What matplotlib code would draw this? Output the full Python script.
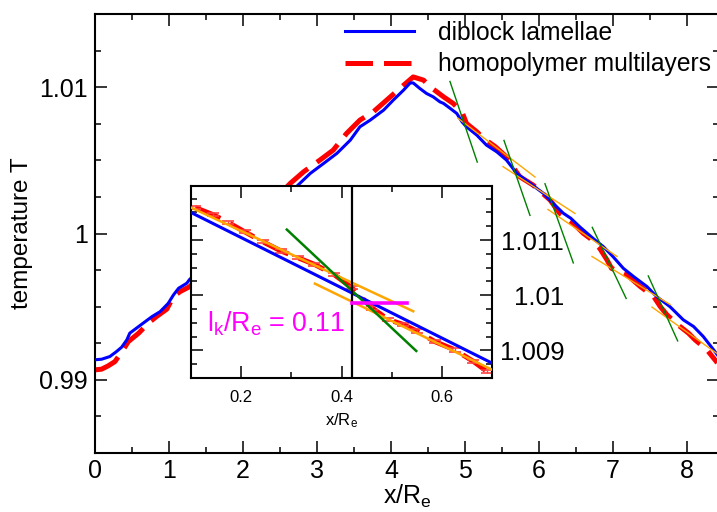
import matplotlib
matplotlib.use("Agg")
import matplotlib.pyplot as plt
from matplotlib.ticker import MultipleLocator, FuncFormatter

plt.rcParams['font.family'] = ['Liberation Sans', 'DejaVu Sans']
plt.rcParams['mathtext.fontset'] = 'custom'
plt.rcParams['mathtext.rm'] = 'Liberation Sans'
plt.rcParams['mathtext.it'] = 'Liberation Sans:italic'

# ---- temperature profiles along x/R_e ----
blue_x = [0.00, 0.09, 0.20, 0.29, 0.36, 0.43, 0.47, 0.56, 0.65, 0.77, 0.88, 0.99,
          1.06, 1.13, 1.24, 1.28, 2.73, 2.91, 3.09, 3.27, 3.45, 3.58, 3.72, 3.90,
          4.03, 4.17, 4.26, 4.30, 4.39, 4.48, 4.57, 4.66, 4.71, 4.80, 4.89, 4.96,
          5.02, 5.16, 5.29, 5.43, 5.56, 5.70, 5.88, 6.06, 6.19, 6.33, 6.43, 6.55,
          6.73, 6.87, 7.00, 7.14, 7.28, 7.46, 7.59, 7.77, 7.95, 8.09, 8.22, 8.36, 8.41]
blue_y = [0.99137, 0.99141, 0.99159, 0.99193, 0.99223, 0.99273, 0.99319, 0.99353,
          0.99387, 0.99432, 0.99466, 0.99523, 0.99580, 0.99626, 0.99660, 0.99687,
          1.00324, 1.00411, 1.00479, 1.00548, 1.00638, 1.00729, 1.00775, 1.00843,
          1.00911, 1.00980, 1.01029, 1.01029, 1.00991, 1.00957, 1.00934, 1.00900,
          1.00889, 1.00855, 1.00820, 1.00763, 1.00729, 1.00672, 1.00604, 1.00558,
          1.00502, 1.00411, 1.00343, 1.00274, 1.00206, 1.00138, 1.00104, 1.00046,
          0.99967, 0.99910, 0.99842, 0.99762, 0.99705, 0.99637, 0.99569, 0.99500,
          0.99410, 0.99364, 0.99296, 0.99205, 0.99171]

red_x = [0.00, 0.09, 0.18, 0.27, 0.38, 0.45, 0.59, 0.72, 0.83, 0.97, 1.06, 1.15,
         1.28, 2.64, 2.82, 3.04, 3.22, 3.40, 3.58, 3.76, 3.94, 4.12, 4.30, 4.44,
         4.53, 4.71, 4.84, 4.96, 5.02, 5.16, 5.25, 5.41, 5.56, 5.63, 5.74, 5.92,
         6.15, 6.28, 6.46, 6.60, 6.69, 6.82, 6.92, 6.98, 7.19, 7.37, 7.55, 7.64,
         7.73, 7.88, 8.02, 8.11, 8.27, 8.36, 8.41]
red_y = [0.99068, 0.99073, 0.99096, 0.99125, 0.99205, 0.99261, 0.99319, 0.99387,
         0.99432, 0.99483, 0.99569, 0.99603, 0.99637, 1.00343, 1.00422, 1.00502,
         1.00570, 1.00684, 1.00775, 1.00831, 1.00911, 1.00991, 1.01070, 1.01048,
         1.01002, 1.00934, 1.00889, 1.00830, 1.00752, 1.00695, 1.00650, 1.00593,
         1.00524, 1.00468, 1.00388, 1.00331, 1.00229, 1.00138, 1.00070, 1.00001,
         0.99967, 0.99899, 0.99819, 0.99762, 0.99717, 0.99637, 0.99569, 0.99500,
         0.99444, 0.99375, 0.99319, 0.99273, 0.99205, 0.99148, 0.99116]

# linear fits between kinks (x0, y0, x1, y1)
fit_segments = [
    (4.905, 1.00788, 5.946, 1.00386),
    (5.514, 1.00457, 6.486, 1.00137),
    (6.122, 1.00164, 7.054, 0.99843),
    (6.716, 0.99843, 7.770, 0.99515),
    (7.527, 0.99497, 8.450, 0.99164),
]
# steep tangents across each kink
kink_tangents = [
    (4.797, 1.01039, 5.166, 1.00488),
    (5.527, 1.00636, 5.878, 1.00124),
    (6.081, 1.00340, 6.464, 0.99799),
    (6.720, 1.00042, 7.178, 0.99556),
    (7.477, 0.99710, 7.874, 0.99266),
]

# ---- close-up of one kink ----
zoom_blue_x = [0.1, 0.7]
zoom_blue_y = [1.01150, 1.00877]
zoom_red_x = [0.108, 0.144, 0.174, 0.207, 0.243, 0.280, 0.313, 0.346, 0.386,
              0.420, 0.461, 0.493, 0.523, 0.550, 0.586, 0.626, 0.663, 0.690]
zoom_red_y = [1.01159, 1.01146, 1.01132, 1.01115, 1.01097, 1.01080, 1.01068,
              1.01056, 1.01037, 1.01014, 1.00977, 1.00956, 1.00947, 1.00935,
              1.00916, 1.00901, 1.00880, 1.00862]
zoom_red_err = 0.00003
zoom_fit_upper = (0.100, 1.01159, 0.543, 1.00971)
zoom_fit_lower = (0.347, 1.01021, 0.700, 1.00865)
zoom_tangent = (0.291, 1.01119, 0.549, 1.00899)
kink_x = 0.4215
kink_bar_y = 1.00986
lk = 0.11

BLUE = '#0000ff'
RED = '#ff0000'
GREEN = '#008000'
ORANGE = '#ffa500'
MAGENTA = '#ff00ff'

W, H = 717, 512
fig = plt.figure(figsize=(W / 100, H / 100), dpi=100)

ax = fig.add_axes([95 / W, 59 / H, (718.8 - 95) / W, (453 - 14) / H])
ax.plot(blue_x, blue_y, color=BLUE, lw=2.2, label='diblock lamellae', zorder=3)
ax.plot(red_x, red_y, color=RED, lw=3.6, dashes=(5.5, 2.2),
        label='homopolymer multilayers', zorder=2)
for x0, y0, x1, y1 in fit_segments:
    ax.plot([x0, x1], [y0, y1], color=ORANGE, lw=1.0, zorder=4)
for x0, y0, x1, y1 in kink_tangents:
    ax.plot([x0, x1], [y0, y1], color=GREEN, lw=1.0, zorder=4)

ax.set_xlim(0, 8.43)
ax.set_ylim(0.985, 1.015)
ax.xaxis.set_major_locator(MultipleLocator(1))
ax.xaxis.set_minor_locator(MultipleLocator(0.5))
ax.yaxis.set_major_locator(MultipleLocator(0.01))
ax.yaxis.set_minor_locator(MultipleLocator(0.0025))
fmt = FuncFormatter(lambda v, p: f'{v:g}')
ax.xaxis.set_major_formatter(fmt)
ax.yaxis.set_major_formatter(fmt)
ax.tick_params(which='both', direction='in', top=True, right=True, width=1.1,
               labelsize=18)
ax.tick_params(which='major', length=8.6)
ax.tick_params(which='minor', length=4.3)
ax.tick_params(axis='x', pad=4)
ax.tick_params(axis='y', pad=5)
for s in ax.spines.values():
    s.set_linewidth(1.5)
ax.set_xlabel(r'x/R$_\mathregular{e}$', fontsize=18)
ax.xaxis.set_label_coords(0.5, -0.068)
ax.set_ylabel('temperature T', fontsize=17.5)
ax.yaxis.set_label_coords(-0.10, 0.5)

leg = ax.legend(loc='upper left', bbox_to_anchor=(345 / W, 1 - 21 / H),
                bbox_transform=fig.transFigure, frameon=False, fontsize=17.7,
                handlelength=2.8, handletextpad=1.0, labelspacing=0.3,
                borderpad=0, borderaxespad=0)

# inset
ins = fig.add_axes([191 / W, 134 / H, 301 / W, 192 / H])
ins.set_facecolor('white')
ins.plot(zoom_red_x, zoom_red_y, color=RED, lw=3.6, dashes=(5.5, 2.2), zorder=2)
ins.errorbar(zoom_red_x, zoom_red_y, yerr=zoom_red_err, fmt='none',
             ecolor='#ff4040', elinewidth=1.0, capsize=4, capthick=1.2, zorder=2.5)
ins.plot(zoom_blue_x, zoom_blue_y, color=BLUE, lw=2.2, zorder=3)
for x0, y0, x1, y1 in (zoom_fit_upper, zoom_fit_lower):
    ins.plot([x0, x1], [y0, y1], color=ORANGE, lw=1.8, zorder=4)
x0, y0, x1, y1 = zoom_tangent
ins.plot([x0, x1], [y0, y1], color=GREEN, lw=1.8, zorder=4)
ins.axvline(kink_x, color='black', lw=1.6, zorder=5)
ins.plot([kink_x, kink_x + lk], [kink_bar_y, kink_bar_y], color=MAGENTA, lw=2.6,
         zorder=5)

ins.set_xlim(0.1, 0.7)
ins.set_ylim(1.0085, 1.01198)
ins.xaxis.set_major_locator(MultipleLocator(0.2))
ins.xaxis.set_minor_locator(MultipleLocator(0.1))
ins.yaxis.set_major_locator(MultipleLocator(0.001))
ins.yaxis.set_minor_locator(MultipleLocator(0.00025))
ins.xaxis.set_major_formatter(fmt)
ins.yaxis.set_major_formatter(fmt)
ins.tick_params(which='both', direction='in', top=True, right=True, width=1.1,
                labelleft=False, labelright=True)
ins.tick_params(which='major', length=8.6)
ins.tick_params(which='minor', length=4.3)
ins.tick_params(axis='x', labelsize=12, pad=9)
ins.tick_params(axis='y', labelsize=18.5, pad=52)
for t in ins.yaxis.get_major_ticks():
    t.label2.set_horizontalalignment('right')
for s in ins.spines.values():
    s.set_linewidth(1.5)
ins.set_xlabel(r'x/R$_\mathregular{e}$', fontsize=12, labelpad=4)

fig.text(207 / W, 1 - 332 / H, r'l$_\mathregular{k}$/R$_\mathregular{e}$ = 0.11',
         color=MAGENTA, fontsize=19.3, ha='left', va='baseline')

fig.savefig('out.png', dpi=100)
